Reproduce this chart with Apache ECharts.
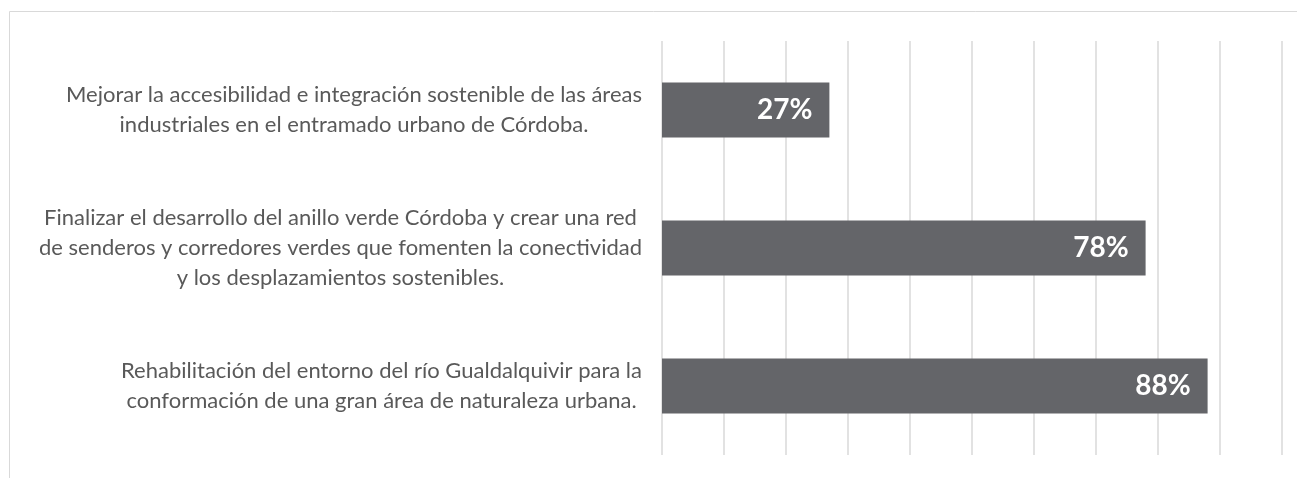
<!DOCTYPE html>
<html>
<head>
<meta charset="utf-8">
<script src="https://cdn.jsdelivr.net/npm/echarts@6/dist/echarts.min.js"></script>
<style>
  html, body { margin: 0; padding: 0; background: #fff; }
  #chart { width: 1297px; height: 478px; }
</style>
</head>
<body>
<div id="chart"></div>
<script>
// categories, top to bottom
const categories = [
  'Mejorar la accesibilidad e integración sostenible de las áreas\nindustriales en el entramado urbano de Córdoba.',
  'Finalizar el desarrollo del anillo verde Córdoba y crear una red\nde senderos y corredores verdes que fomenten la conectividad\ny los desplazamientos sostenibles.',
  'Rehabilitación del entorno del río Gualdalquivir para la\nconformación de una gran área de naturaleza urbana.'
]
const values = [27, 78, 88]

const chart = echarts.init(document.getElementById('chart'))

chart.setOption({
  animation: false,
  graphic: [
    {
      type: 'rect',
      shape: { x: 9.5, y: 11.5, width: 1400, height: 600 },
      style: { fill: 'none', stroke: '#d9d9d9', lineWidth: 1 },
      silent: true,
    },
  ],
  grid: {
    left: 662,
    right: 15,
    top: 41,
    bottom: 23,
  },
  xAxis: {
    type: 'value',
    min: 0,
    max: 100,
    interval: 10,
    axisLabel: { show: false },
    axisLine: { show: false },
    axisTick: { show: false },
    splitLine: { show: true, lineStyle: { color: '#d9d9d9', width: 1.5 } },
  },
  yAxis: {
    type: 'category',
    inverse: true,
    data: categories,
    axisLine: { show: false },
    axisTick: { show: false },
    axisLabel: {
      margin: 20,
      formatter: v => v.split('\n').map(l => '{c|' + l + '}').join('\n'),
      rich: {
        c: {
          align: 'center',
          fontFamily: 'Lato',
          fontSize: 22,
          lineHeight: 30,
          color: '#595959',
        },
      },
    },
  },
  series: [
    {
      type: 'bar',
      data: values,
      barWidth: '40%',
      itemStyle: { color: '#646569' },
      label: {
        show: true,
        position: 'insideRight',
        distance: 17,
        formatter: p => p.value + '%',
        color: '#ffffff',
        fontFamily: 'Lato',
        fontWeight: 'bold',
        fontSize: 28,
      },
    },
  ],
})
</script>
</body>
</html>
